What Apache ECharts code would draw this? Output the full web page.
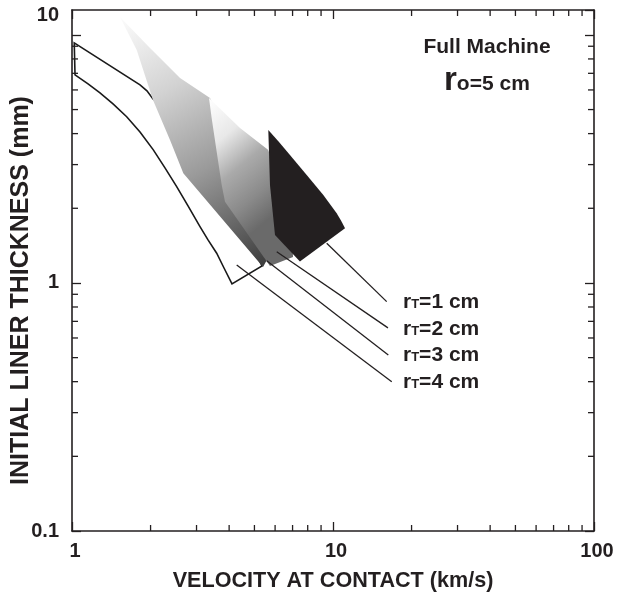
<!DOCTYPE html>
<html><head><meta charset="utf-8">
<script src="https://cdn.jsdelivr.net/npm/echarts@6/dist/echarts.min.js"></script>
<style>html,body{margin:0;padding:0;background:#fff}#c{width:618px;height:593px}</style>
</head><body><div id="c"></div>
<script>
// ---- axis ranges & ticks ----
const xMin = 1, xMax = 100;
const yMin = 0.1, yMax = 12.6;
const xMinorTicks = [2, 3, 4, 5, 6, 7, 8, 9, 20, 30, 40, 50, 60, 70, 80, 90];
const yMinorTicks = [0.2, 0.3, 0.4, 0.5, 0.6, 0.7, 0.8, 0.9, 2, 3, 4, 5, 6, 7, 8, 9];

// ---- regions [velocity km/s, thickness mm] ----
const regionRT4 = [[1.02, 9.28], [1.822, 6.29], [1.937, 5.95], [2.043, 5.52], [2.710, 4.336], [4.031, 2.161], [5.346, 1.171], [4.102, 0.991], [3.823, 1.149], [3.584, 1.318], [3.320, 1.491], [3.093, 1.687], [2.783, 2.045], [2.518, 2.445], [2.271, 2.909], [2.049, 3.44], [1.822, 4.063], [1.620, 4.68], [1.436, 5.27], [1.280, 5.84], [1.152, 6.345], [1.027, 6.90]];
const regionRT3 = [[1.527, 11.82], [1.990, 8.86], [2.594, 6.71], [3.379, 5.57], [4.601, 2.855], [5.636, 1.261], [5.394, 1.160], [2.670, 2.77], [2.374, 3.77], [2.043, 5.47], [1.770, 8.70]];
const regionRT2 = [[3.349, 5.57], [4.403, 4.217], [5.636, 3.44], [6.84, 2.16], [7.03, 1.273], [5.735, 1.171], [3.857, 2.127], [3.746, 2.484], [3.584, 3.383], [3.429, 4.615]];
const regionRT1 = [[5.651, 4.14], [6.21, 3.70], [6.84, 3.28], [7.93, 2.727], [9.18, 2.264], [10.33, 1.91], [10.73, 1.787], [11.12, 1.662], [7.47, 1.219], [5.995, 1.562], [5.735, 2.484]];

// ---- leader lines ----
const leaderRT1 = [[9.46, 1.446], [16.06, 0.841]];
const leaderRT2 = [[6.087, 1.337], [16.24, 0.659]];
const leaderRT3 = [[5.571, 1.230], [16.29, 0.5125]];
const leaderRT4 = [[4.276, 1.182], [16.79, 0.400]];

const targetRadii = ['1', '2', '3', '4'];
const outerRadius = '5';

const FONT = '"Liberation Sans", Arial, Helvetica, sans-serif';
const INK = '#231f20';

function polySeries(points, style, z) {
  return {
    type: 'custom', coordinateSystem: 'cartesian2d', z: z, silent: true,
    data: points,
    renderItem: function (params, api) {
      if (params.dataIndex !== 0) return;
      const pts = points.map(function (p) { return api.coord(p); });
      return { type: 'polygon', shape: { points: pts }, style: style };
    }
  };
}
function lineSeries(points, z) {
  return {
    type: 'custom', coordinateSystem: 'cartesian2d', z: z, silent: true,
    data: points,
    renderItem: function (params, api) {
      if (params.dataIndex !== 0) return;
      const pts = points.map(function (p) { return api.coord(p); });
      return { type: 'polyline', shape: { points: pts }, style: { stroke: INK, lineWidth: 1.3, fill: null } };
    }
  };
}
function xTickSeries() {
  return {
    type: 'custom', coordinateSystem: 'cartesian2d', z: 6, silent: true,
    data: xMinorTicks.map(function (v) { return [v, yMin]; }),
    renderItem: function (params, api) {
      const v = api.value(0);
      const b = api.coord([v, yMin]), t = api.coord([v, yMax]);
      const st = { stroke: INK, lineWidth: 1.3 };
      return { type: 'group', children: [
        { type: 'line', shape: { x1: b[0], y1: b[1], x2: b[0], y2: b[1] - 6 }, style: st },
        { type: 'line', shape: { x1: t[0], y1: t[1], x2: t[0], y2: t[1] + 6 }, style: st }
      ] };
    }
  };
}
function yTickSeries() {
  return {
    type: 'custom', coordinateSystem: 'cartesian2d', z: 6, silent: true,
    data: yMinorTicks.map(function (v) { return [xMin, v]; }),
    renderItem: function (params, api) {
      const v = api.value(1);
      const l = api.coord([xMin, v]), r = api.coord([xMax, v]);
      const st = { stroke: INK, lineWidth: 1.3 };
      return { type: 'group', children: [
        { type: 'line', shape: { x1: l[0], y1: l[1], x2: l[0] + 6, y2: l[1] }, style: st },
        { type: 'line', shape: { x1: r[0], y1: r[1], x2: r[0] - 6, y2: r[1] }, style: st }
      ] };
    }
  };
}

const chart = echarts.init(document.getElementById('c'), null, { renderer: 'canvas' });

const axisLine = { show: true, onZero: false, lineStyle: { color: INK, width: 1.6 } };
const majorTick = { show: true, inside: true, length: 9, lineStyle: { color: INK, width: 1.3 } };
const labelStyle = { fontFamily: FONT, fontWeight: 'bold', fontSize: 20, color: INK };

const grad3 = new echarts.graphic.LinearGradient(0, 0, 1, 1, [
  { offset: 0, color: '#fcfcfc' }, { offset: 0.3, color: '#d2d2d2' },
  { offset: 0.6, color: '#9a9a9a' }, { offset: 1, color: '#3a3a3a' }]);
const grad2 = new echarts.graphic.LinearGradient(0, 0, 1, 0.6, [
  { offset: 0, color: '#ffffff' }, { offset: 0.3, color: '#e8e8e8' },
  { offset: 0.55, color: '#aaaaaa' }, { offset: 0.8, color: '#8a8a8a' }, { offset: 1, color: '#6a6a6a' }]);

function rtText(n) {
  return '{r|r}{s|T}{n|=' + n + ' cm}';
}
const rtRich = {
  r: { fontFamily: FONT, fontWeight: 'bold', fontSize: 21, fill: INK },
  s: { fontFamily: FONT, fontWeight: 'bold', fontSize: 13, fill: INK, padding: [4, 0, 0, 0] },
  n: { fontFamily: FONT, fontWeight: 'bold', fontSize: 21, fill: INK }
};
const rtY = [302, 329, 355, 382];

chart.setOption({
  animation: false,
  backgroundColor: '#ffffff',
  grid: { left: 72, top: 10, right: 24, bottom: 62, containLabel: false, outerBoundsMode: 'none' },
  xAxis: [{
    type: 'log', logBase: 10, min: xMin, max: xMax, position: 'bottom',
    axisLine: axisLine, axisTick: majorTick, splitLine: { show: false },
    axisLabel: Object.assign({ margin: 10, padding: [0, 0, 0, 6] }, labelStyle),
    name: 'VELOCITY AT CONTACT (km/s)', nameLocation: 'middle', nameGap: 39, nameMoveOverlap: false,
    nameTextStyle: { fontFamily: FONT, fontWeight: 'bold', fontSize: 21.6, color: INK }
  }, {
    type: 'log', logBase: 10, min: xMin, max: xMax, position: 'top',
    axisLine: axisLine, axisTick: majorTick, splitLine: { show: false }, axisLabel: { show: false }
  }],
  yAxis: [{
    type: 'log', logBase: 10, min: yMin, max: yMax, position: 'left',
    axisLine: axisLine, axisTick: majorTick, splitLine: { show: false },
    axisLabel: Object.assign({
      margin: 13, showMaxLabel: false,
      formatter: function (v) { return Math.abs(v - 10) < 1e-6 ? '{t|10}' : String(v); },
      rich: { t: { fontFamily: FONT, fontWeight: 'bold', fontSize: 20, color: INK, padding: [0, 0, 38, 0] } }
    }, labelStyle),
    name: 'INITIAL LINER THICKNESS (mm)', nameLocation: 'middle', nameGap: 38, nameMoveOverlap: false,
    nameTextStyle: { fontFamily: FONT, fontWeight: 'bold', fontSize: 25, color: INK, padding: [0, 40, 0, 0] }
  }, {
    type: 'log', logBase: 10, min: yMin, max: yMax, position: 'right',
    axisLine: axisLine, axisTick: majorTick, splitLine: { show: false }, axisLabel: { show: false }
  }],
  series: [
    polySeries(regionRT4, { fill: 'none', stroke: '#1a1a1a', lineWidth: 1.6, lineJoin: 'miter' }, 2),
    polySeries(regionRT3, { fill: grad3 }, 3),
    polySeries(regionRT2, { fill: grad2 }, 4),
    polySeries(regionRT1, { fill: INK }, 5),
    lineSeries(leaderRT1, 6), lineSeries(leaderRT2, 6), lineSeries(leaderRT3, 6), lineSeries(leaderRT4, 6),
    xTickSeries(), yTickSeries()
  ],
  graphic: [
    { type: 'text', x: 487, y: 47, style: { text: 'Full Machine', font: 'bold 21px ' + FONT, fill: INK, align: 'center', verticalAlign: 'middle' } },
    { type: 'text', x: 444, y: 81, style: {
      text: '{R|r}{o|o}{n|=' + outerRadius + ' cm}', verticalAlign: 'middle',
      rich: {
        R: { fontFamily: FONT, fontWeight: 'bold', fontSize: 33, fill: INK },
        o: { fontFamily: FONT, fontWeight: 'bold', fontSize: 21, fill: INK, padding: [7, 0, 0, 0] },
        n: { fontFamily: FONT, fontWeight: 'bold', fontSize: 21, fill: INK, padding: [7, 0, 0, 0] }
      } } }
  ].concat(targetRadii.map(function (n, i) {
    return { type: 'text', x: 403, y: rtY[i], style: { text: rtText(n), rich: rtRich, verticalAlign: 'middle' } };
  }))
});
</script></body></html>
